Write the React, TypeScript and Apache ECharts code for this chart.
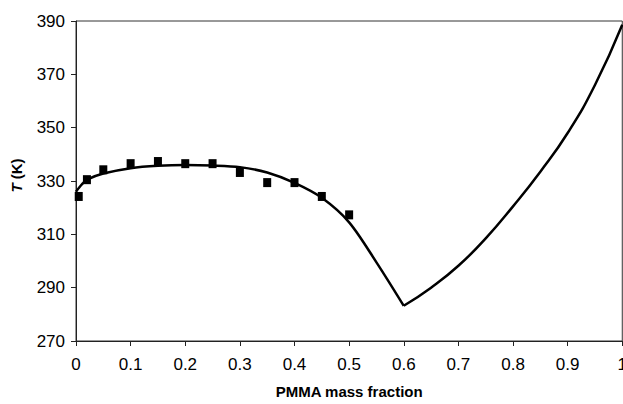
import React, { useEffect, useRef } from "react";
import * as echarts from "echarts";

// Liquidus / cloud-point curve (left branch, up to the minimum)
const curveLeftX = [0, 0.01, 0.02, 0.05, 0.1, 0.15, 0.2, 0.25, 0.3, 0.35, 0.4, 0.45, 0.5, 0.55, 0.6];
const curveLeftT = [326, 328.6, 330.5, 332.8, 334.8, 335.7, 336, 335.8, 335.2, 333.2, 329.3, 323.7, 314.5, 299.5, 283.2];

// Right branch
const curveRightX = [0.6, 0.65, 0.7, 0.75, 0.8, 0.85, 0.9, 0.95, 1.0];
const curveRightT = [283.2, 290, 298.2, 308.5, 320.5, 333.5, 348, 366, 388.6];

// Experimental points
const expX = [0.005, 0.02, 0.05, 0.1, 0.15, 0.2, 0.25, 0.3, 0.35, 0.4, 0.45, 0.5];
const expT = [324.2, 330.5, 334.2, 336.5, 337.3, 336.5, 336.5, 333.2, 329.4, 329.4, 324.2, 317.3];

const xTitle = "PMMA mass fraction";
const yTitleVar = "T";
const yTitleUnit = " (K)";

const tickFont = "'Liberation Sans', Arial, sans-serif";
const titleFont = "'Liberation Sans', Arial, sans-serif";

export default function App() {
  const ref = useRef<HTMLDivElement>(null);
  useEffect(() => {
    if (!ref.current) return;
    const chart = echarts.init(ref.current, undefined, { renderer: "svg" });
    const zip = (xs: number[], ys: number[]) => xs.map((x, i) => [x, ys[i]]);
    chart.setOption({
      animation: false,
      backgroundColor: "#ffffff",
      grid: {
        left: 76,
        right: 5,
        top: 21,
        bottom: 61,
        show: true,
        borderColor: "#333333",
        borderWidth: 1,
        backgroundColor: "transparent",
      },
      xAxis: {
        type: "value",
        min: 0,
        max: 1,
        interval: 0.1,
        name: xTitle,
        nameLocation: "middle",
        nameGap: 43,
        nameTextStyle: { fontFamily: titleFont, fontWeight: "bold", fontSize: 15, color: "#000" },
        axisLine: { show: true, lineStyle: { color: "#222", width: 1 } },
        axisTick: { show: true, length: 5, inside: false, lineStyle: { color: "#222" } },
        axisLabel: { fontFamily: tickFont, fontSize: 17, color: "#000", margin: 15 },
        splitLine: { show: false },
      },
      yAxis: {
        type: "value",
        min: 270,
        max: 390,
        interval: 20,
        axisLine: { show: true, lineStyle: { color: "#222", width: 1 } },
        axisTick: { show: true, length: 5, inside: false, lineStyle: { color: "#222" } },
        axisLabel: { fontFamily: tickFont, fontSize: 17, color: "#000", margin: 11 },
        splitLine: { show: false },
      },
      graphic: [
        {
          type: "text",
          x: 16,
          y: 175.5,
          rotation: Math.PI / 2,
          style: {
            text: "{i|" + yTitleVar + "}" + yTitleUnit,
            fontFamily: titleFont,
            fontWeight: "bold",
            fontSize: 15,
            fill: "#000",
            align: "center",
            verticalAlign: "middle",
            rich: {
              i: { fontFamily: titleFont, fontWeight: "bold", fontStyle: "italic", fontSize: 15, fill: "#000" },
            },
          },
        },
      ],
      series: [
        {
          type: "line",
          data: zip(curveLeftX, curveLeftT),
          smooth: 0.3,
          showSymbol: false,
          lineStyle: { color: "#000", width: 2.5 },
          silent: true,
        },
        {
          type: "line",
          data: zip(curveRightX, curveRightT),
          smooth: 0.5,
          showSymbol: false,
          lineStyle: { color: "#000", width: 2.5 },
          silent: true,
        },
        {
          type: "scatter",
          data: zip(expX, expT),
          symbol: "rect",
          symbolSize: [8, 9],
          itemStyle: { color: "#000", opacity: 1 },
          z: 3,
        },
      ],
    });
    return () => chart.dispose();
  }, []);
  return (
    <div style={{ position: "fixed", left: 0, top: 0, width: 623, height: 404, overflow: "hidden", background: "#fff" }}>
      <div ref={ref} style={{ width: 630, height: 404 }} />
    </div>
  );
}
